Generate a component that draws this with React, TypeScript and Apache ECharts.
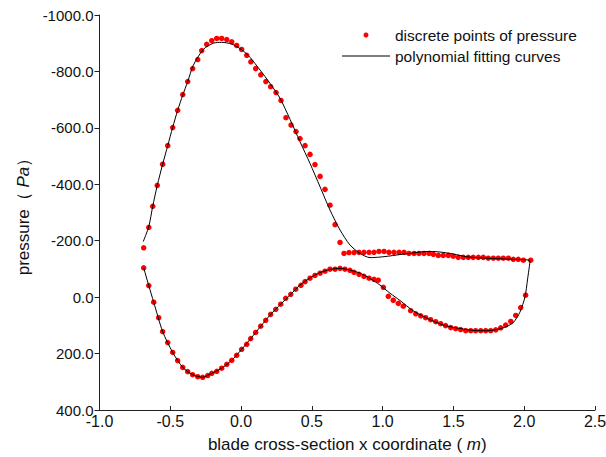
import React, { useEffect, useRef } from "react";
import * as echarts from "echarts";

// Suction side discrete points (upper branch), leading edge -> trailing edge
const suctionX = [
  -0.688, -0.652, -0.624, -0.592, -0.554, -0.518, -0.483, -0.448, -0.412, -0.377,
  -0.342, -0.306, -0.278, -0.243, -0.207, -0.172, -0.137, -0.101, -0.066, -0.031,
  0.004, 0.04, 0.069, 0.103, 0.139, 0.175, 0.209, 0.247, 0.282, 0.317,
  0.353, 0.388, 0.416, 0.452, 0.487, 0.522, 0.558, 0.593, 0.628, 0.664,
  0.699, 0.727,
  0.762, 0.798, 0.833, 0.868, 0.904, 0.939, 0.974, 1.01, 1.045, 1.08,
  1.116, 1.151, 1.186, 1.222, 1.257, 1.292, 1.328, 1.358, 1.393, 1.428,
  1.464, 1.499, 1.534, 1.57, 1.605, 1.64, 1.676, 1.711, 1.746, 1.782,
  1.817, 1.852, 1.888, 1.923, 1.958, 1.994, 2.046,
];
const suctionY = [
  -175, -247, -322, -396, -471, -537, -601, -662, -718, -764,
  -810, -842, -874, -896, -909, -917, -917, -913, -905, -892,
  -878, -857, -834, -810, -788, -764, -746, -725, -697, -636,
  -610, -587, -562, -537, -506, -470, -428, -382, -326, -257,
  -194, -155,
  -158, -158, -159, -159, -159, -159, -162, -162, -159, -159,
  -159, -159, -155, -155, -155, -155, -155, -152, -148, -148,
  -148, -145, -141, -141, -141, -141, -141, -141, -138, -138,
  -138, -138, -138, -134, -134, -131, -131,
];

// Pressure side discrete points (lower branch), trailing edge -> leading edge
const pressureX = [
  2.01, 1.975, 1.94, 1.905, 1.869, 1.834, 1.799, 1.763, 1.728, 1.693,
  1.657, 1.622, 1.587, 1.551, 1.516, 1.481, 1.445, 1.41, 1.375, 1.339,
  1.304, 1.269, 1.234, 1.198,
  1.146, 1.111, 1.075, 1.04, 1.005, 0.969, 0.939, 0.904, 0.868, 0.833,
  0.798, 0.769, 0.734, 0.699, 0.664, 0.628, 0.593, 0.558, 0.522, 0.487,
  0.452, 0.423,
  0.386, 0.351, 0.315, 0.28, 0.245, 0.209, 0.174, 0.139, 0.103, 0.068,
  0.04, 0.004, -0.031, -0.066, -0.101, -0.137, -0.172, -0.207, -0.236, -0.271,
  -0.306, -0.342, -0.377, -0.412, -0.448, -0.483, -0.518, -0.554, -0.582, -0.617,
  -0.652, -0.688,
];
const pressureY = [
  -7, 37, 65, 86, 99, 109, 116, 119, 119, 119,
  119, 119, 119, 115, 112, 108, 101, 94, 87, 80,
  73, 66, 59, 48,
  32, 22, 11, -3, -35, -60, -63, -67, -74, -81,
  -88, -95, -99, -102, -99, -99, -92, -85, -77, -67,
  -55, -42,
  -28, -10, 4, 25, 43, 61, 82, 103, 125, 147,
  167, 185, 206, 224, 238, 252, 263, 270, 278, 284,
  282, 275, 264, 249, 225, 196, 161, 122, 73, 18,
  -41, -104,
];

// Polynomial fitting curve (upper branch, trailing edge, lower branch)
const fitX = [
  -0.691, -0.652, -0.624, -0.592, -0.554, -0.518, -0.483, -0.448, -0.412, -0.377,
  -0.337, -0.267, -0.196, -0.137, -0.066, 0.004, 0.063, 0.134, 0.204, 0.275,
  0.346, 0.416, 0.487, 0.558, 0.628, 0.699, 0.769, 0.84, 0.911, 0.981,
  1.052, 1.123, 1.193, 1.264, 1.335, 1.405, 1.499, 1.594, 1.735, 1.923,
  2.041,
  2.023, 2.006, 1.97, 1.923, 1.876, 1.806, 1.735, 1.64, 1.57, 1.499,
  1.428, 1.358, 1.287, 1.217, 1.123, 1.052, 0.981, 0.911, 0.84, 0.769,
  0.699, 0.628, 0.558, 0.487, 0.416, 0.351, 0.28, 0.209, 0.139, 0.068,
  0.004, -0.066, -0.137, -0.207, -0.271, -0.342, -0.412, -0.483, -0.554, -0.617,
  -0.652, -0.688,
];
const fitY = [
  -197, -250, -322, -396, -471, -537, -602, -662, -716, -764,
  -822, -878, -900, -903, -897, -877, -850, -805, -758, -705,
  -630, -551, -474, -391, -309, -238, -185, -155, -140, -142,
  -146, -151, -155, -160, -162, -160, -153, -143, -138, -134,
  -129,
  -61, -2, 53, 90, 104, 115, 119, 118, 113, 107,
  99, 85, 68, 49, 12, -14, -43, -66, -85, -96,
  -102, -98, -87, -68, -43, -10, 25, 61, 103, 147,
  185, 224, 252, 270, 284, 275, 249, 196, 122, 18,
  -41, -104,
];

const FONT = '"Liberation Sans", Arial, Helvetica, sans-serif';
const TEXT = "#111";
const AXIS = "#222";

export default function App() {
  const ref = useRef<HTMLDivElement>(null);

  useEffect(() => {
    if (!ref.current) return;
    const chart = echarts.init(ref.current, null, { renderer: "svg" });

    const dots = [
      ...suctionX.map((x, i) => [x, suctionY[i]]),
      ...pressureX.map((x, i) => [x, pressureY[i]]),
    ];
    const fit = fitX.map((x, i) => [x, fitY[i]]);

    chart.setOption({
      animation: false,
      backgroundColor: "#fff",
      textStyle: { fontFamily: FONT },
      grid: {
        left: 99.5,
        right: 11,
        top: 15,
        bottom: 47,
        containLabel: false,
        outerBoundsMode: "none",
      },
      legend: {
        left: 342,
        top: 27,
        orient: "vertical",
        padding: 0,
        itemWidth: 48,
        itemHeight: 5,
        itemGap: 5,
        textStyle: { fontSize: 15.5, color: TEXT, fontFamily: FONT },
        data: [
          {
            name: "discrete points of pressure",
            icon: "circle",
            itemStyle: { color: "#ff0000", opacity: 1 },
          },
          {
            name: "polynomial fitting curves",
            icon: "path://M0,0 H48 V1 H0 Z",
            itemStyle: { color: "#000", opacity: 1 },
          },
        ],
      },
      xAxis: {
        type: "value",
        min: -1,
        max: 2.5,
        interval: 0.5,
        name: "{a|blade cross-section x coordinate ( }{b|m}{a|)}",
        nameLocation: "middle",
        nameGap: 26,
        nameTextStyle: {
          color: TEXT,
          fontSize: 17,
          fontFamily: FONT,
          rich: {
            a: { fontSize: 17, fontFamily: FONT, color: TEXT },
            b: { fontSize: 17, fontFamily: FONT, color: TEXT, fontStyle: "italic" },
          },
        },
        axisLine: { show: true, onZero: false, lineStyle: { color: AXIS, width: 1 } },
        axisTick: { show: true, inside: true, length: 4, lineStyle: { color: AXIS } },
        axisLabel: {
          show: true,
          margin: 3,
          color: TEXT,
          fontSize: 16,
          fontFamily: FONT,
          formatter: (v: number) => v.toFixed(1),
        },
        splitLine: { show: false },
      },
      yAxis: {
        type: "value",
        inverse: true,
        min: -1000,
        max: 400,
        interval: 200,
        name: "{a|pressure（ }{b|Pa}{a|）}",
        nameLocation: "middle",
        nameGap: 67,
        nameTextStyle: {
          color: TEXT,
          fontSize: 17,
          fontFamily: FONT,
          rich: {
            a: { fontSize: 17, fontFamily: FONT, color: TEXT },
            b: { fontSize: 17, fontFamily: FONT, color: TEXT, fontStyle: "italic" },
          },
        },
        axisLine: { show: true, onZero: false, lineStyle: { color: AXIS, width: 1 } },
        axisTick: { show: true, inside: false, length: 5, lineStyle: { color: AXIS } },
        axisLabel: {
          show: true,
          margin: 6,
          color: TEXT,
          fontSize: 15,
          fontFamily: FONT,
          formatter: (v: number) => v.toFixed(1),
        },
        splitLine: { show: false },
      },
      series: [
        {
          name: "discrete points of pressure",
          type: "scatter",
          data: dots,
          symbol: "circle",
          symbolSize: 5.5,
          itemStyle: { color: "#ff0000", opacity: 1 },
          z: 2,
        },
        {
          name: "polynomial fitting curves",
          type: "line",
          data: fit,
          symbol: "none",
          showSymbol: false,
          smooth: 0.25,
          lineStyle: { color: "#000", width: 1 },
          itemStyle: { color: "#000" },
          z: 3,
        },
      ],
    });

    return () => chart.dispose();
  }, []);

  return (
    <div
      ref={ref}
      style={{ position: "fixed", left: 0, top: 0, width: 606, height: 457, background: "#fff" }}
    />
  );
}
